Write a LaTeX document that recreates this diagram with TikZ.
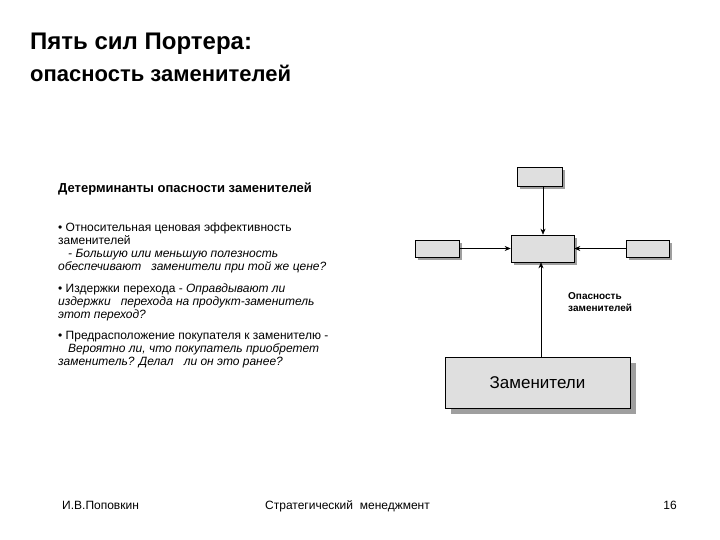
\documentclass[tikz,border=0pt]{standalone}
\usepackage{fontspec}
\setmainfont{Liberation Sans}
\usetikzlibrary{arrows.meta}
\begin{document}
\begin{tikzpicture}[x=1pt,y=-1pt,
 bx/.style={draw=black,fill=gray!25,line width=0.6pt},
 sh/.style={fill=gray!75},
 txt/.style={anchor=base west,inner sep=0pt,font=\fontsize{12}{13}\selectfont},
 arr/.style={-{Stealth[length=6pt,width=5pt]},line width=0.6pt}]
\useasboundingbox[fill=white] (0,0) rectangle (720,540);
\node[txt,font=\bfseries\fontsize{24}{26}\selectfont] (t1) at (30,50) {Пять сил Портера:};
\node[txt,font=\bfseries\fontsize{22}{24}\selectfont] (t2) at (30,82) {опасность заменителей};
\node[txt,font=\bfseries\fontsize{13}{14}\selectfont] (h) at (58,193) {Детерминанты опасности заменителей};
\node[txt] (l1) at (58,231) {\textbullet\ Относительная ценовая эффективность};
\node[txt] (l2) at (58,244) {заменителей};
\node[txt] (l3) at (58,257) {\itshape\ \ \ - Большую или меньшую полезность};
\node[txt] (l4) at (58,270) {\itshape обеспечивают \ \ заменители при той же цене?};
\node[txt] (l5) at (58,292) {\textbullet\ Издержки перехода - \itshape Оправдывают ли};
\node[txt] (l6) at (58,305) {\itshape издержки \ \ перехода на продукт-заменитель};
\node[txt] (l7) at (58,318) {\itshape этот переход?};
\node[txt] (l8) at (58,339) {\textbullet\ Предрасположение покупателя к заменителю -};
\node[txt] (l9) at (58,352) {\itshape\ \ \ Вероятно ли, что покупатель приобретет};
\node[txt] (l10) at (58,365) {\itshape заменитель? Делал \ \ ли он это ранее?};
% shadows
\fill[sh] (520,170) rectangle (565,189);
\fill[sh] (514,238) rectangle (577,265);
\fill[sh] (418,243) rectangle (462,260);
\fill[sh] (629,243) rectangle (672,260);
\fill[sh] (451,363) rectangle (636,414);
% boxes
\node[bx,minimum width=45pt,minimum height=19pt,inner sep=0pt] (top) at (539.5,176.5) {};
\node[bx,minimum width=63pt,minimum height=27pt,inner sep=0pt] (mid) at (542.5,248.5) {};
\node[bx,minimum width=44pt,minimum height=17pt,inner sep=0pt] (lft) at (437,248.5) {};
\node[bx,minimum width=43pt,minimum height=17pt,inner sep=0pt] (rgt) at (647.5,248.5) {};
\node[bx,minimum width=185pt,minimum height=51pt,inner sep=0pt,font=\fontsize{17}{18}\selectfont] (big) at (537.5,382.5) {Заменители};
\draw[arr] (top.south -| 543,0) -- (mid.north -| 543,0);
\draw[arr] (lft.east) -- (mid.west |- lft.east);
\draw[arr] (rgt.west) -- (mid.east |- rgt.west);
\draw[arr] (big.north -| 541,0) -- (mid.south -| 541,0);
\node[txt,font=\bfseries\fontsize{10}{12}\selectfont,align=left,anchor=north west] (op) at (568,292) {Опасность\\заменителей};
\node[txt,font=\fontsize{12}{13}\selectfont] (f1) at (62,509) {И.В.Поповкин};
\node[txt,font=\fontsize{12}{13}\selectfont] (f2) at (265,509) {Стратегический \ менеджмент};
\node[txt,font=\fontsize{12}{13}\selectfont,anchor=base east] (f3) at (677,509) {16};
\end{tikzpicture}
\end{document}
